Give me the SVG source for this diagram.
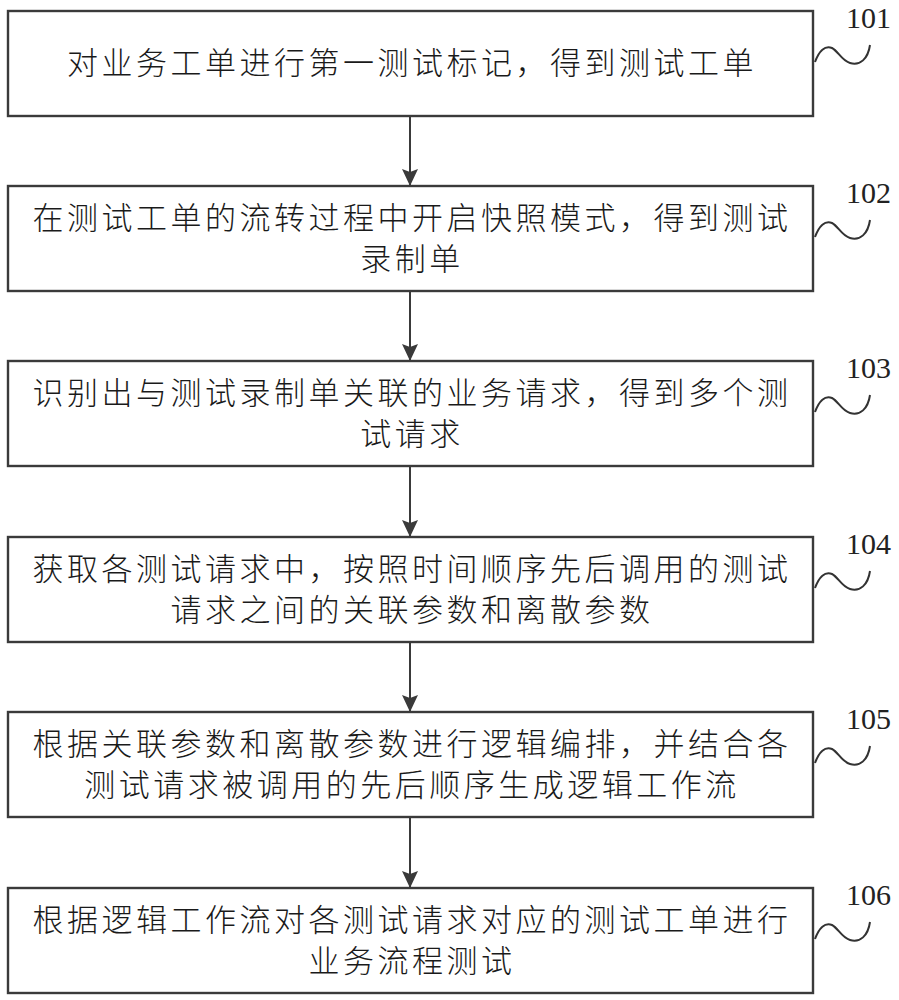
<svg xmlns="http://www.w3.org/2000/svg" width="899" height="1000" viewBox="0 0 899 1000">
<defs>
<style>
.box{fill:#fff;stroke:#3a3a3a;stroke-width:2.4}
.t{font-family:"Noto Sans CJK SC","Noto Sans CJK JP",sans-serif;font-size:31px;font-weight:300;letter-spacing:3.5px;fill:#1a1a1a;text-anchor:middle}
.lbl{font-family:"Liberation Serif","Times New Roman",serif;font-size:30px;fill:#222}
.sq{fill:none;stroke:#333;stroke-width:2}
.ar{stroke:#3a3a3a;stroke-width:2;fill:none}
</style>
<marker id="ah" viewBox="0 0 17 16" refX="17" refY="8" markerWidth="17" markerHeight="16" markerUnits="userSpaceOnUse" orient="auto">
<path d="M0,0 L17,8 L0,16 L3,8 z" fill="#3a3a3a"/>
</marker>
<path id="tl" class="sq" d="M815,51 C819,40 825,34 832,37 C838,40 842,50 850,52 C860,55 868,48 870,34"/>
</defs>
<rect width="899" height="1000" fill="#fff"/>
<g id="connectors">
<line class="ar" x1="410" y1="116" x2="410" y2="186" marker-end="url(#ah)"/>
<line class="ar" x1="410" y1="291" x2="410" y2="361" marker-end="url(#ah)"/>
<line class="ar" x1="410" y1="466" x2="410" y2="537" marker-end="url(#ah)"/>
<line class="ar" x1="410" y1="642" x2="410" y2="712" marker-end="url(#ah)"/>
<line class="ar" x1="410" y1="817" x2="410" y2="888" marker-end="url(#ah)"/>
</g>
<g id="n101" transform="translate(0,11)">
<rect class="box" x="8" y="0" width="805" height="105"/>
<text class="t" x="412" y="63">对业务工单进行第一测试标记，得到测试工单</text>
<use href="#tl"/>
<text class="lbl" x="846" y="17">101</text>
</g>
<g id="n102" transform="translate(0,186)">
<rect class="box" x="8" y="0" width="805" height="105"/>
<text class="t" x="412" y="43">在测试工单的流转过程中开启快照模式，得到测试</text>
<text class="t" x="412" y="84">录制单</text>
<use href="#tl"/>
<text class="lbl" x="846" y="17">102</text>
</g>
<g id="n103" transform="translate(0,361)">
<rect class="box" x="8" y="0" width="805" height="105"/>
<text class="t" x="412" y="43">识别出与测试录制单关联的业务请求，得到多个测</text>
<text class="t" x="412" y="84">试请求</text>
<use href="#tl"/>
<text class="lbl" x="846" y="17">103</text>
</g>
<g id="n104" transform="translate(0,537)">
<rect class="box" x="8" y="0" width="805" height="105"/>
<text class="t" x="412" y="43">获取各测试请求中，按照时间顺序先后调用的测试</text>
<text class="t" x="412" y="84">请求之间的关联参数和离散参数</text>
<use href="#tl"/>
<text class="lbl" x="846" y="17">104</text>
</g>
<g id="n105" transform="translate(0,712)">
<rect class="box" x="8" y="0" width="805" height="105"/>
<text class="t" x="412" y="43">根据关联参数和离散参数进行逻辑编排，并结合各</text>
<text class="t" x="412" y="84">测试请求被调用的先后顺序生成逻辑工作流</text>
<use href="#tl"/>
<text class="lbl" x="846" y="17">105</text>
</g>
<g id="n106" transform="translate(0,888)">
<rect class="box" x="8" y="0" width="805" height="105"/>
<text class="t" x="412" y="43">根据逻辑工作流对各测试请求对应的测试工单进行</text>
<text class="t" x="412" y="84">业务流程测试</text>
<use href="#tl"/>
<text class="lbl" x="846" y="17">106</text>
</g>
</svg>
